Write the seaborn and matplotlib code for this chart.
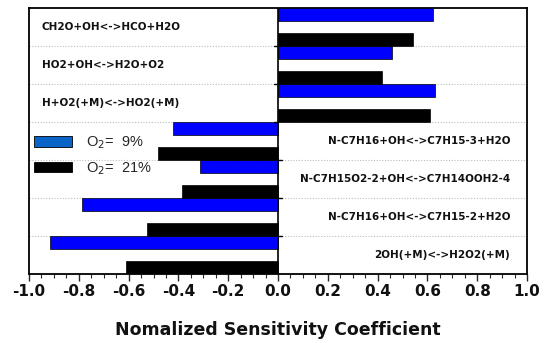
import numpy as np
import pandas as pd
import matplotlib
matplotlib.use("Agg")
import matplotlib.pyplot as plt
from matplotlib.patches import Patch
from matplotlib.ticker import MultipleLocator
import seaborn as sns

reactions = [
    "CH2O+OH<->HCO+H2O",
    "HO2+OH<->H2O+O2",
    "H+O2(+M)<->HO2(+M)",
    "N-C7H16+OH<->C7H15-3+H2O",
    "N-C7H15O2-2+OH<->C7H14OOH2-4",
    "N-C7H16+OH<->C7H15-2+H2O",
    "2OH(+M)<->H2O2(+M)",
]
o2_9 = [0.621, 0.458, 0.632, -0.423, -0.312, -0.788, -0.916]
o2_21 = [0.543, 0.416, 0.610, -0.481, -0.384, -0.525, -0.610]
series_labels = [r"O$_2$=  9%", r"O$_2$=  21%"]
xticks = [-1.0, -0.8, -0.6, -0.4, -0.2, 0.0, 0.2, 0.4, 0.6, 0.8, 1.0]

sns.set_style("white")
plt.rcParams['font.family'] = ['DejaVu Sans']

fig = plt.figure(figsize=(5.5, 3.43), dpi=100)
ax = fig.add_axes([29/550, 1-274/343, 498/550, 266/343])

idx = np.arange(len(reactions))
off = 0.33
bar_h = 0.355
df9 = pd.DataFrame({"pos": idx - off, "val": o2_9})
df21 = pd.DataFrame({"pos": idx + off, "val": o2_21})

sns.barplot(data=df9, x="val", y="pos", orient="h", native_scale=True,
            color="#0000ff", saturation=1, width=bar_h, edgecolor="black",
            linewidth=0.5, ax=ax, zorder=3)
sns.barplot(data=df21, x="val", y="pos", orient="h", native_scale=True,
            color="black", saturation=1, width=bar_h, edgecolor="black",
            linewidth=0.5, ax=ax, zorder=3)

ax.set_xlim(-1.0, 1.0)
ax.set_ylim(len(reactions) - 0.5, -0.5)

# group boundary gridlines
bounds = idx[:-1] + 0.5
ax.set_yticks(bounds)
ax.set_yticklabels([])
ax.tick_params(axis='y', length=0)
ax.yaxis.grid(True, linestyle=(0, (1, 1.5)), color="#bcbcbc", linewidth=0.8, zorder=0)
ax.xaxis.grid(False)
ax.set_ylabel("")

# zero line with small ticks
ax.axvline(0, color="black", linewidth=1.2, zorder=4)
for i, b in enumerate(bounds):
    if o2_9[i] > 0:
        ax.plot([-0.017, 0], [b, b], color="black", linewidth=1.0, zorder=4)
    else:
        ax.plot([0, 0.017], [b, b], color="black", linewidth=1.0, zorder=4)

# x ticks
ax.set_xticks(xticks)
ax.set_xticklabels([f"{t:.1f}" for t in xticks], fontsize=11, fontweight="bold", color="#111111")
ax.xaxis.set_minor_locator(MultipleLocator(0.05))
ax.tick_params(axis='x', which='major', direction='out', length=5, width=1.0, pad=2, bottom=True)
ax.tick_params(axis='x', which='minor', direction='out', length=3, width=0.8, bottom=True)
ax.set_xlabel("Nomalized Sensitivity Coefficient", fontsize=12.5, fontweight="bold",
              color="#111111", labelpad=16)

for s in ax.spines.values():
    s.set_visible(True)
    s.set_color("black")
    s.set_linewidth(1.3)

# reaction labels
for i, r in enumerate(reactions):
    if o2_9[i] > 0:
        ax.text(-0.948, i, r, ha="left", va="center", fontsize=7.5,
                fontweight="bold", color="#111111", zorder=5)
    else:
        ax.text(0.932, i, r, ha="right", va="center", fontsize=7.5,
                fontweight="bold", color="#111111", zorder=5)

handles = [Patch(facecolor="#0a64c8", edgecolor="black", linewidth=0.6),
           Patch(facecolor="black", edgecolor="black", linewidth=0.6)]
ax.legend(handles, series_labels, loc="upper left", bbox_to_anchor=(0.01, 0.525),
          frameon=False, borderpad=0, borderaxespad=0, handlelength=2.6,
          handleheight=0.75, handletextpad=0.95, labelspacing=0.62,
          prop={"family": "Liberation Sans", "size": 10.5})

fig.savefig("out.png", dpi=100)
